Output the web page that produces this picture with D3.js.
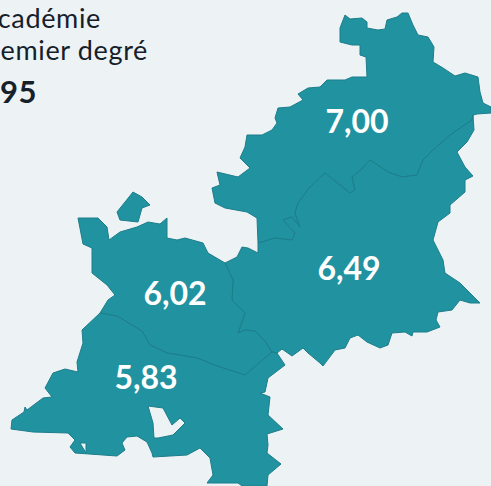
<!DOCTYPE html>
<html>
<head>
<meta charset="utf-8">
<script src="https://cdn.jsdelivr.net/npm/d3@7"></script>
<style>
  html, body { margin: 0; padding: 0; background: #edf3f5; overflow: hidden; }
  svg { display: block; }
  text { font-family: Lato, sans-serif; }
</style>
</head>
<body>
<div id="map"></div>
<script>
// values per departement group, as printed on the map
var regionValues = ["7,00", "6,49", "6,02", "5,83"];
var labelPoints = [[357, 133], [349, 280], [175, 305], [146, 389]];

// heading lines, the left part is cut off in the source image
var headingLines = ["cadémie", "emier degré", "95"];

// outline arcs (map units)
var outlineNorth = [[258,243],[257,218],[247,212],[225,208],[215,203],[212,188],[220,185],[217,172],[238,177],[250,168],[240,158],[245,147],[247,135],[262,135],[272,130],[277,123],[275,118],[278,108],[290,107],[303,100],[298,94],[308,88],[320,87],[327,80],[345,80],[352,77],[367,77],[366,57],[360,55],[360,45],[352,45],[340,42],[340,28],[345,15],[350,19],[362,18],[367,22],[367,28],[378,30],[385,29],[387,20],[397,17],[402,13],[408,13],[413,25],[418,35],[428,37],[434,47],[433,62],[443,68],[455,76],[465,73],[478,77],[480,92],[483,103],[491,107],[491,113],[477,114],[473,115]];
var outlineEast = [[473,115],[474,130],[467,142],[457,152],[465,167],[473,176],[465,180],[465,192],[450,205],[450,213],[438,222],[433,240],[443,260],[445,273],[460,283],[470,293],[480,303],[470,303],[460,300],[452,310],[438,312],[436,320],[440,327],[427,332],[413,332],[412,336],[405,332],[392,333],[388,345],[380,348],[367,342],[358,335],[350,338],[345,348],[335,350],[323,366],[320,363],[308,353],[303,348],[292,356],[282,349],[277,353]];
var outlineSouth = [[277,353],[285,365],[268,378],[265,392],[260,393],[270,397],[268,415],[283,429],[267,434],[268,445],[267,453],[281,464],[268,475],[267,486],[242,486],[238,483],[207,483],[213,475],[210,458],[200,448],[187,455],[153,457],[152,453],[147,442],[137,436],[127,437],[122,443],[125,450],[117,456],[75,453],[70,447],[75,440],[68,433],[33,432],[11,429],[12,420],[24,412],[25,407],[27,410],[43,398],[52,397],[45,388],[53,373],[65,369],[78,372],[77,362],[83,343],[82,330],[100,313]];
var outlineWest = [[100,313],[108,300],[115,295],[107,285],[92,273],[92,248],[83,244],[78,218],[98,218],[107,227],[109,240],[120,232],[137,227],[148,222],[160,224],[167,218],[167,238],[177,240],[185,238],[203,243],[208,253],[225,263]];
var outlineNotch = [[225,263],[237,257],[242,247],[248,248],[258,253],[258,243]];

// inner borders
var border700 = [[473,115],[472,120],[450,135],[433,150],[423,160],[417,175],[402,177],[388,172],[370,160],[363,168],[352,177],[355,190],[350,193],[325,173],[310,187],[298,203],[295,213],[300,227],[292,217],[283,220],[295,233],[292,240],[275,238],[262,242],[258,243]];
var border602 = [[225,263],[233,280],[232,300],[245,313],[238,333],[245,330],[255,331],[265,341],[272,352]];
var border583 = [[100,313],[117,316],[142,331],[150,345],[167,353],[180,355],[197,358],[217,366],[245,375],[272,352],[277,353]];

// the island north of the 6,02 area and the two holes in 5,83
var island = [[133,192],[142,197],[150,205],[142,208],[138,222],[120,220],[117,212],[123,198]];
var lake = [[148,406],[163,408],[172,425],[180,418],[185,423],[173,435],[158,438],[154,438],[153,423],[145,418]];
var pond = [[80,443],[86,443],[86,453],[79,453]];

function rev(a) { return a.slice().reverse(); }

var regionRings = [
    [[outlineNorth.concat(border700)]],
    [[outlineEast.concat(rev(border583.slice(-2)), rev(border602), outlineNotch, rev(border700))]],
    [[outlineWest.concat(border602, rev(border583.slice(0, -1)))], [island]],
    [[outlineSouth.concat(border583), lake, pond]]
];

var width = 491, height = 486;

var svg = d3.select("#map").append("svg")
    .attr("width", width)
    .attr("height", height);

var path = d3.geoPath().projection(d3.geoIdentity());

var features = regionRings.map(function(rings, i) {
    return {
        type: "Feature",
        properties: { value: regionValues[i] },
        geometry: { type: "MultiPolygon", coordinates: rings }
    };
});

svg.append("g")
    .style("filter", "blur(0.5px)")
    .selectAll("path")
    .data(features)
    .enter().append("path")
    .attr("d", path)
    .attr("fill", "#2193a0")
    .attr("fill-rule", "evenodd")
    .attr("stroke", "#1c7c8a")
    .attr("stroke-width", 1)
    .attr("stroke-linejoin", "round");

svg.append("g")
    .selectAll("text")
    .data(regionValues)
    .enter().append("text")
    .attr("x", function(d, i) { return labelPoints[i][0]; })
    .attr("y", function(d, i) { return labelPoints[i][1]; })
    .attr("text-anchor", "middle")
    .attr("fill", "#ffffff")
    .attr("font-size", 32)
    .attr("font-weight", 700)
    .text(function(d) { return d; });

var headingY = [28, 60, 103];
var headingX = [101, 148, 37];

svg.append("g")
    .selectAll("text")
    .data(headingLines)
    .enter().append("text")
    .attr("x", function(d, i) { return headingX[i]; })
    .attr("y", function(d, i) { return headingY[i]; })
    .attr("text-anchor", "end")
    .attr("fill", "#16202a")
    .attr("font-size", function(d, i) { return i == 2 ? 31 : 27; })
    .attr("font-weight", function(d, i) { return i == 2 ? 700 : 400; })
    .attr("letter-spacing", function(d, i) { return i == 2 ? 0.5 : 0.65; })
    .text(function(d) { return d; });
</script>
</body>
</html>
